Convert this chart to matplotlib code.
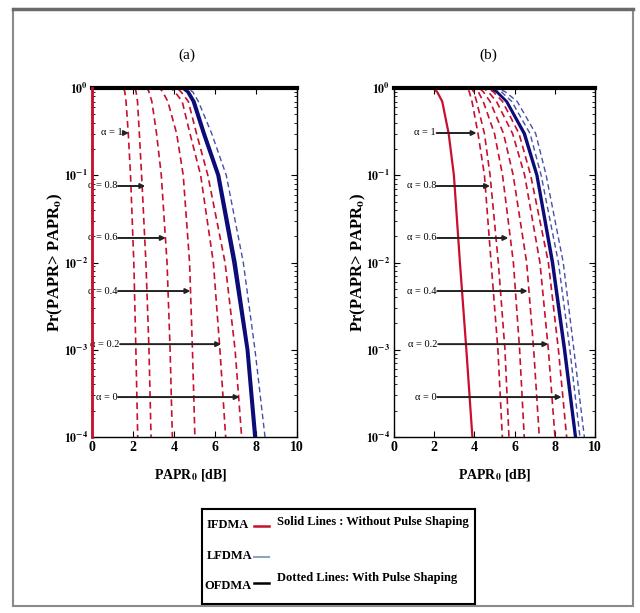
import numpy as np
import matplotlib
matplotlib.use("Agg")
import matplotlib.pyplot as plt
from matplotlib.patches import Rectangle
from matplotlib.lines import Line2D
from matplotlib.ticker import FuncFormatter

prob_levels = [1, 0.9, 0.7, 0.3, 0.1, 1e-2, 1e-3, 1e-4]
alphas = ["1", "0.8", "0.6", "0.4", "0.2", "0"]

# panel (a), PAPR0 [dB] at each probability level
a_ifdma_solid = [0, 0, 0, 0, 0, 0, 0, 0]
a_ifdma_dashed = [
    [1.55, 1.60, 1.66, 1.77, 1.88, 2.04, 2.14, 2.23],
    [2.10, 2.15, 2.22, 2.31, 2.42, 2.63, 2.78, 2.88],
    [2.70, 2.78, 2.92, 3.15, 3.38, 3.66, 3.81, 3.92],
    [3.30, 3.45, 3.70, 4.13, 4.45, 4.76, 4.90, 5.02],
    [3.85, 4.05, 4.40, 4.78, 5.30, 5.92, 6.24, 6.52],
    [4.15, 4.35, 4.70, 5.10, 5.65, 6.49, 6.98, 7.30],
]
a_lfdma_solid = [4.40, 4.65, 4.92, 5.42, 6.12, 6.90, 7.55, 7.92]
a_ofdma_solid = [4.48, 4.72, 5.00, 5.50, 6.20, 7.00, 7.62, 8.00]
a_lfdma_dashed = [4.65, 4.92, 5.19, 5.84, 6.55, 7.38, 7.95, 8.44]

# panel (b)
b_ifdma_solid = [1.95, 2.15, 2.40, 2.72, 2.98, 3.28, 3.60, 3.90]
b_ifdma_dashed = [
    [3.65, 3.75, 3.88, 4.18, 4.50, 4.83, 5.17, 5.39],
    [3.85, 3.97, 4.11, 4.50, 4.78, 5.19, 5.52, 5.72],
    [4.05, 4.20, 4.44, 5.00, 5.40, 5.94, 6.25, 6.48],
    [4.25, 4.45, 4.78, 5.45, 5.93, 6.60, 6.95, 7.23],
    [4.45, 4.70, 5.10, 5.90, 6.50, 7.26, 7.68, 8.01],
    [4.65, 4.95, 5.40, 6.22, 6.80, 7.68, 8.18, 8.59],
]
b_lfdma_solid = [4.80, 5.10, 5.58, 6.45, 7.08, 7.85, 8.45, 9.00]
b_ofdma_solid = [4.85, 5.15, 5.63, 6.52, 7.14, 7.92, 8.52, 9.06]
b_lfdma_dashed = [5.00, 5.35, 5.86, 6.77, 7.32, 8.18, 8.75, 9.25]
b_ofdma_dashed = [5.15, 5.55, 6.13, 7.05, 7.57, 8.42, 8.95, 9.47]

# alpha arrows: height (probability), start and end PAPR0
arrow_prob = [0.305, 0.0753, 0.0191, 0.00471, 0.00116, 0.000287]
a_arrow_start = [1.51, 1.27, 1.27, 1.27, 1.37, 1.27]
a_arrow_end = [1.80, 2.60, 3.60, 4.80, 6.30, 7.20]
b_arrow_start = [2.12, 2.12, 2.15, 2.15, 2.20, 2.15]
b_arrow_end = [4.11, 4.78, 5.69, 6.65, 7.68, 8.34]

RED = "#c8102e"
NAVY = "#0c0c78"
BLUE_DASH = "#4650aa"

plt.rcParams["font.family"] = ["Liberation Serif", "DejaVu Serif"]
plt.rcParams["mathtext.fontset"] = "stix"


def draw_curve(ax, xs, **kw):
    # curves sit at Pr = 1 from PAPR0 = 0 up to where they start to fall
    ax.plot([0] + list(xs), [1] + prob_levels, **kw)


def setup_axes(ax, title, title_x):
    ax.set_yscale("log")
    ax.set_xlim(0, 10)
    ax.set_ylim(1e-4, 1)
    ax.set_xticks([0, 2, 4, 6, 8, 10])
    ax.set_yticks([1e-4, 1e-3, 1e-2, 1e-1, 1])
    ax.yaxis.set_major_formatter(FuncFormatter(lambda v, p: r"$\mathbf{10^{%d}}$" % round(np.log10(v))))
    ax.tick_params(which="both", direction="in", top=True, right=True)
    ax.tick_params(which="major", length=4, labelsize=8.5, pad=3)
    ax.tick_params(which="minor", length=2)
    for lab in ax.get_xticklabels():
        lab.set_fontweight("bold")
        lab.set_fontsize(10)
    for sp in ax.spines.values():
        sp.set_linewidth(1.0)
    ax.spines["top"].set_linewidth(3.0)
    ax.set_xlabel(r"PAPR$_\mathbf{0}$ [dB]", fontsize=10, fontweight="bold")
    ax.set_ylabel(r"Pr(PAPR> PAPR$_\mathbf{o}$)", fontsize=12, fontweight="bold")
    ax.yaxis.set_label_coords(-0.13, 0.5)
    ax.text(title_x, 1.095, title, transform=ax.transAxes, ha="center", va="center", fontsize=11)


def draw_arrows(ax, starts, ends):
    for a, p, s, e in zip(alphas, arrow_prob, starts, ends):
        ax.annotate("", xy=(e, p), xytext=(s, p),
                    arrowprops=dict(arrowstyle="-|>", color="#222222", lw=1.4,
                                    mutation_scale=7, shrinkA=0, shrinkB=0))
        ax.text(s - 0.03, p, "\u03b1 = " + a, ha="right", va="center", fontsize=7.5)


fig = plt.figure(figsize=(6.4, 6.13), dpi=100)
ax_a = fig.add_axes([92 / 640, 176 / 613, 205 / 640, 349 / 613])
ax_b = fig.add_axes([394 / 640, 176 / 613, 201 / 640, 349 / 613])

# (a)
for xs in a_ifdma_dashed:
    draw_curve(ax_a, xs, color=RED, lw=1.2, ls=(0, (4, 2.5)))
draw_curve(ax_a, a_lfdma_dashed, color=BLUE_DASH, lw=1.0, ls=(0, (4, 2.5)))
draw_curve(ax_a, a_lfdma_solid, color=NAVY, lw=1.8)
draw_curve(ax_a, a_ofdma_solid, color=NAVY, lw=1.8)
ax_a.plot(a_ifdma_solid, prob_levels, color=RED, lw=2.0, clip_on=False, zorder=5)
draw_arrows(ax_a, a_arrow_start, a_arrow_end)
setup_axes(ax_a, "(a)", 0.463)
ax_a.xaxis.set_label_coords(0.48, -0.085)

# (b)
draw_curve(ax_b, b_ifdma_solid, color=RED, lw=1.6)
for xs in b_ifdma_dashed:
    draw_curve(ax_b, xs, color=RED, lw=1.2, ls=(0, (4, 2.5)))
draw_curve(ax_b, b_lfdma_dashed, color=BLUE_DASH, lw=1.0, ls=(0, (4, 2.5)))
draw_curve(ax_b, b_ofdma_dashed, color=BLUE_DASH, lw=1.0, ls=(0, (4, 2.5)))
draw_curve(ax_b, b_lfdma_solid, color=NAVY, lw=1.5)
draw_curve(ax_b, b_ofdma_solid, color=NAVY, lw=1.5)
draw_arrows(ax_b, b_arrow_start, b_arrow_end)
setup_axes(ax_b, "(b)", 0.468)
ax_b.xaxis.set_label_coords(0.50, -0.085)

# legend box under the panels
leg = fig.add_axes([202 / 640, 9 / 613, 273 / 640, 95 / 613])
leg.set_xlim(0, 1)
leg.set_ylim(0, 1)
leg.set_xticks([])
leg.set_yticks([])
for sp in leg.spines.values():
    sp.set_linewidth(1.5)
lkw = dict(fontsize=9, fontweight="bold", va="center")
leg.text(0.018, 0.83, "IFDMA", **lkw)
leg.text(0.018, 0.505, "LFDMA", **lkw)
leg.text(0.010, 0.19, "OFDMA", **lkw)
leg.plot([0.19, 0.245], [0.82, 0.82], color=RED, lw=1.8)
leg.plot([0.19, 0.245], [0.50, 0.50], color="#8da3c4", lw=1.5)
leg.plot([0.19, 0.245], [0.22, 0.22], color="black", lw=1.8)
leg.text(0.275, 0.86, "Solid Lines : Without Pulse Shaping", **lkw)
leg.text(0.275, 0.27, "Dotted Lines: With Pulse Shaping", **lkw)

# outer gray frame
fig.add_artist(Rectangle((13 / 640, 7 / 613), 620 / 640, 597 / 613, transform=fig.transFigure,
                         fill=False, ec="#8a8a8a", lw=1.5))
fig.add_artist(Line2D([13 / 640, 633 / 640], [604 / 613, 604 / 613], transform=fig.transFigure,
                      color="#6a6a6a", lw=2.5))

fig.savefig("out.png", dpi=100)
